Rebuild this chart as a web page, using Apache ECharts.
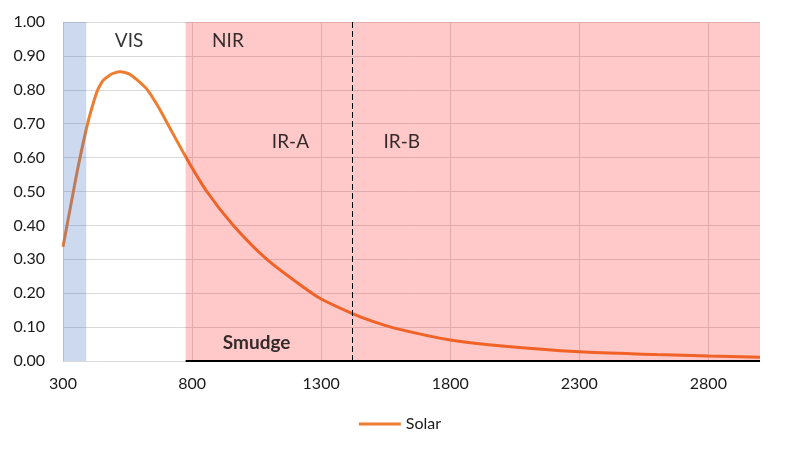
<!DOCTYPE html>
<html>
<head>
<meta charset="utf-8">
<script src="https://cdn.jsdelivr.net/npm/echarts@6/dist/echarts.min.js"></script>
<style>
html,body{margin:0;padding:0;background:#fff;}
#chart{width:800px;height:456px;}
</style>
</head>
<body>
<div id="chart"></div>
<script>
// ---- data ----
const wavelengths = [300, 334, 360, 392, 412, 433, 445, 456, 482, 500, 521, 540, 560, 598, 627, 665, 705, 777, 857, 960, 1090, 1255, 1300, 1421, 1500, 1600, 1800, 2000, 2300, 2600, 2800, 3000];
const solar =       [0.337, 0.475, 0.578, 0.69, 0.747, 0.797, 0.815, 0.828, 0.844, 0.850, 0.853, 0.851, 0.845, 0.822, 0.80, 0.755, 0.70, 0.60, 0.50, 0.40, 0.30, 0.205, 0.183, 0.140, 0.117, 0.094, 0.062, 0.044, 0.027, 0.019, 0.0145, 0.011];
const xTickLabels = [300, 800, 1300, 1800, 2300, 2800];
const uvBand = [300, 390];
const nirBand = [775, 3000];
const irDivider = 1420;
const smudgeRange = [775, 3000];
const regionLabels = ['VIS', 'NIR', 'IR-A', 'IR-B'];
const regionLabelX = [556, 939, 1181, 1612];
const regionLabelY = [0.945, 0.945, 0.647, 0.647];
const smudgeLabel = ['Smudge', 1050, 0.052];

const FONT = 'Lato';
const chart = echarts.init(document.getElementById('chart'));
const lineData = wavelengths.map((w, i) => [w, solar[i]]);
const labelData = regionLabels.map((t, i) => [regionLabelX[i], regionLabelY[i], t]);

chart.setOption({
  animation: false,
  grid: {left: 63, right: 40, top: 22, bottom: 95},
  legend: {
    data: [{name: 'Solar', icon: 'rect'}], bottom: 19, left: 'center',
    itemWidth: 42, itemHeight: 3, itemGap: 6,
    textStyle: {fontFamily: FONT, fontSize: 16, color: '#1a1a1a'}
  },
  xAxis: {
    type: 'value', min: 300, max: 3000, interval: 100,
    axisLine: {show: true, lineStyle: {color: '#D9D9D9', width: 1}},
    axisTick: {show: false},
    splitLine: {show: false},
    axisLabel: {
      margin: 15, fontFamily: FONT, fontSize: 16, color: '#1a1a1a',
      formatter: v => xTickLabels.indexOf(v) >= 0 ? String(v) : ''
    }
  },
  yAxis: {
    type: 'value', min: 0, max: 1, interval: 0.1,
    axisLine: {show: true, lineStyle: {color: '#D9D9D9'}},
    axisTick: {show: false},
    splitLine: {show: true, lineStyle: {color: '#D9D9D9', width: 1}},
    axisLabel: {margin: 18, fontFamily: FONT, fontSize: 16, color: '#1a1a1a', formatter: v => v.toFixed(2)}
  },
  series: [
    {
      name: 'vgrid', type: 'line', data: [], z: 1, silent: true,
      markLine: {
        z: 1, silent: true, symbol: 'none', label: {show: false},
        lineStyle: {color: '#D9D9D9', width: 1, type: 'solid'},
        data: xTickLabels.slice(1).map(v => ({xAxis: v}))
      }
    },
    {
      name: 'Solar', type: 'line', data: lineData, z: 2,
      smooth: 0.3, symbol: 'none', showSymbol: false,
      lineStyle: {color: '#ED7D31', width: 3},
      itemStyle: {color: '#ED7D31'}
    },
    {
      name: 'bands', type: 'line', data: [], z: 3, silent: true,
      markArea: {
        z: 3, silent: true,
        data: [
          [{xAxis: uvBand[0], yAxis: 0, itemStyle: {color: 'rgba(68,114,196,0.27)'}}, {xAxis: uvBand[1], yAxis: 1}],
          [{xAxis: nirBand[0], yAxis: 0, itemStyle: {color: 'rgba(255,0,0,0.21)'}}, {xAxis: nirBand[1], yAxis: 1}]
        ]
      }
    },
    {
      name: 'lines', type: 'line', data: [], z: 4, silent: true,
      markLine: {
        z: 4, silent: true, symbol: 'none', label: {show: false},
        data: [
          [{coord: [irDivider, 0], lineStyle: {color: '#000', width: 1, type: [6, 3]}}, {coord: [irDivider, 1]}],
          [{coord: [smudgeRange[0], 0], lineStyle: {color: '#000', width: 2, type: 'solid'}}, {coord: [smudgeRange[1], 0]}]
        ]
      }
    },
    {
      name: 'labels', type: 'scatter', z: 5, silent: true,
      symbolSize: 1, itemStyle: {color: 'rgba(0,0,0,0)'},
      data: labelData,
      label: {
        show: true, position: 'inside', formatter: p => p.data[2],
        fontFamily: FONT, fontSize: 19, color: '#000'
      }
    },
    {
      name: 'smudge', type: 'scatter', z: 5, silent: true,
      symbolSize: 1, itemStyle: {color: 'rgba(0,0,0,0)'},
      data: [[smudgeLabel[1], smudgeLabel[2], smudgeLabel[0]]],
      label: {
        show: true, position: 'inside', formatter: p => p.data[2],
        fontFamily: FONT, fontSize: 19, fontWeight: 'bold', color: '#000'
      }
    }
  ]
});
</script>
</body>
</html>
